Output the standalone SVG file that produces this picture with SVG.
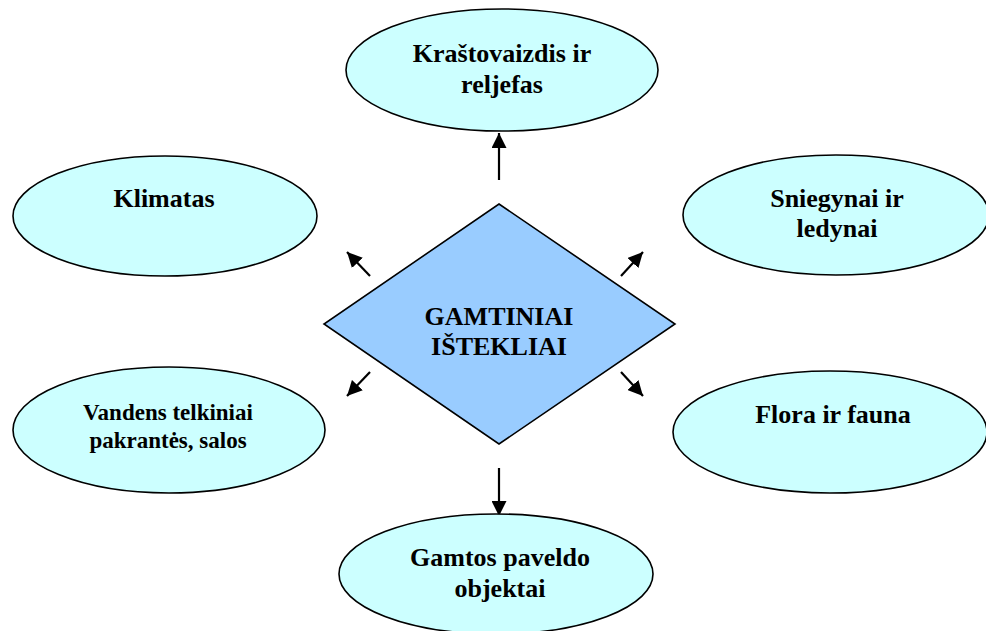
<svg xmlns="http://www.w3.org/2000/svg" width="986" height="631" viewBox="0 0 986 631">
<style>
.el{fill:#CCFFFF;stroke:#000;stroke-width:1.6}
.dia{fill:#99CCFF;stroke:#000;stroke-width:1.6}
.t{font-family:"Liberation Serif","Times New Roman",serif;font-weight:bold;font-size:26px;fill:#000;text-anchor:middle}
.ts{font-size:23px}
.c{stroke:#000;stroke-width:2.2;fill:none;marker-end:url(#ah)}
</style>
<defs>
<marker id="ah" viewBox="0 0 15 15" refX="15" refY="7.5" markerWidth="15" markerHeight="15" markerUnits="userSpaceOnUse" orient="auto">
<path d="M0,0 L15,7.5 L0,15 z" fill="#000"/>
</marker>
</defs>
<rect width="986" height="631" fill="#fff"/>
<g id="connectors">
<line class="c" x1="499" y1="180" x2="499" y2="133"/>
<line class="c" x1="499" y1="468" x2="499" y2="516"/>
<line class="c" x1="370" y1="276" x2="347" y2="252"/>
<line class="c" x1="621" y1="276" x2="643" y2="252"/>
<line class="c" x1="370" y1="372" x2="347" y2="396"/>
<line class="c" x1="621" y1="372" x2="643" y2="396"/>
</g>
<g id="center">
<polygon class="dia" points="499,204 675,324 499,444 324,324"/>
<text class="t" x="499" y="325">GAMTINIAI</text>
<text class="t" x="499" y="355">IŠTEKLIAI</text>
</g>
<g id="krastovaizdis">
<ellipse class="el" cx="502" cy="70" rx="156" ry="61"/>
<text class="t" x="502" y="62">Kraštovaizdis ir</text>
<text class="t" x="502" y="93">reljefas</text>
</g>
<g id="klimatas">
<ellipse class="el" cx="165" cy="216" rx="152" ry="60"/>
<text class="t" x="164" y="207">Klimatas</text>
</g>
<g id="sniegynai">
<ellipse class="el" cx="836" cy="215" rx="153" ry="60"/>
<text class="t" x="837" y="207">Sniegynai ir</text>
<text class="t" x="837" y="237">ledynai</text>
</g>
<g id="vandens">
<ellipse class="el" cx="169" cy="430" rx="156" ry="63"/>
<text class="t ts" x="168" y="420">Vandens telkiniai</text>
<text class="t ts" x="168" y="448">pakrantės, salos</text>
</g>
<g id="flora">
<ellipse class="el" cx="830" cy="432" rx="157" ry="61"/>
<text class="t" x="833" y="423">Flora ir fauna</text>
</g>
<g id="gamtos">
<ellipse class="el" cx="496" cy="574" rx="157" ry="60"/>
<text class="t" x="500" y="566">Gamtos paveldo</text>
<text class="t" x="500" y="597">objektai</text>
</g>
</svg>
